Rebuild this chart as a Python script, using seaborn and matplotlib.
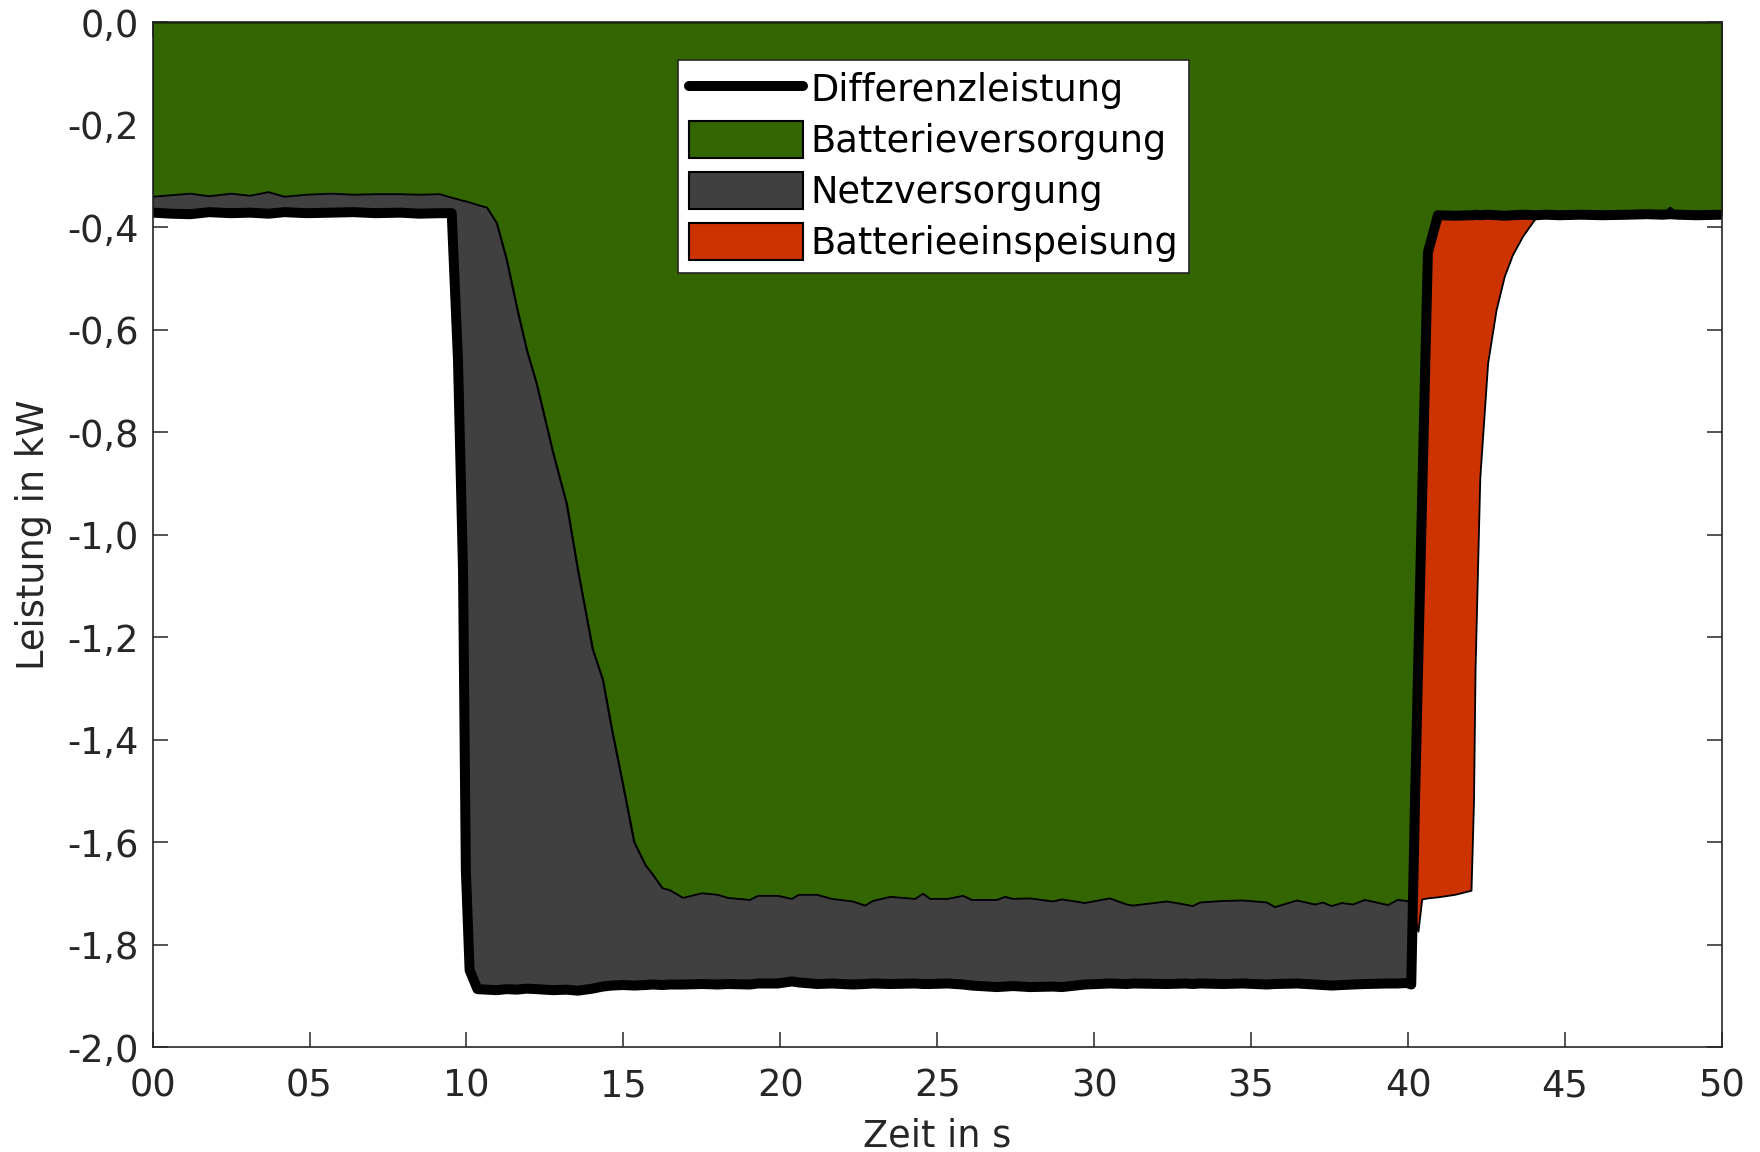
import numpy as np
import matplotlib
matplotlib.use("Agg")
import matplotlib.pyplot as plt
import matplotlib.patches as mpatches
from matplotlib.lines import Line2D
from matplotlib.ticker import FuncFormatter
import seaborn as sns

# ---------------- data ----------------
t = [0, 0.6, 1.2, 1.8, 2.5, 3.1, 3.7, 4.2, 4.9, 5.7, 6.4, 7.1, 7.9, 8.5, 9.15,
     9.53, 9.73, 9.89, 9.98, 10.1, 10.35,
     10.65, 10.96, 11.28, 11.6, 11.92, 12.23, 12.76, 13.19, 13.55, 14.02, 14.34, 14.63,
     14.99, 15.34, 15.7, 15.94, 16.24, 16.48,
     16.9, 17.5, 18.0, 18.33, 19.03, 19.29, 19.92, 20.37, 20.59, 21.17, 21.64, 22.31,
     22.7, 22.95, 23.5, 24.29, 24.55, 24.77, 25.34, 25.82, 26.1, 26.9, 27.16, 27.41,
     27.95, 28.69, 28.97, 29.7, 30.5, 31.04, 31.23, 32.32, 32.89, 33.14, 33.37, 34.1,
     34.74, 35.5, 35.76, 36.46, 37.03, 37.28, 37.57, 37.89, 38.24, 38.62, 39.36, 39.67,
     39.96,
     40.1, 40.22, 40.33, 40.45, 40.63, 40.95, 41.5, 42.02, 42.1, 42.15, 42.3, 42.55,
     42.82, 43.08, 43.34, 43.66, 44.04, 44.4,
     44.8, 45.5, 46.2, 47.0, 47.6, 48.1, 48.35, 48.6, 49.2, 50.0]

# Batterieversorgung boundary (kW)
batterie = [-0.341, -0.338, -0.335, -0.340, -0.335, -0.339, -0.332, -0.341, -0.337,
            -0.335, -0.337, -0.336, -0.336, -0.337, -0.336,
            -0.343, -0.346, -0.349, -0.350, -0.352, -0.357,
            -0.362, -0.392, -0.464, -0.556, -0.640, -0.705, -0.841, -0.940, -1.070,
            -1.224, -1.283, -1.380, -1.490, -1.600, -1.645, -1.664, -1.690, -1.694,
            -1.709, -1.700, -1.703, -1.709, -1.713, -1.705, -1.705, -1.711, -1.703,
            -1.703, -1.711, -1.716, -1.724, -1.715, -1.707, -1.711, -1.701, -1.711,
            -1.711, -1.705, -1.713, -1.713, -1.707, -1.711, -1.710, -1.716, -1.712,
            -1.719, -1.710, -1.722, -1.724, -1.716, -1.722, -1.725, -1.718, -1.715,
            -1.714, -1.718, -1.727, -1.714, -1.722, -1.718, -1.725, -1.719, -1.722,
            -1.713, -1.723, -1.713, -1.715,
            -1.720, -1.750, -1.775, -1.712, -1.710, -1.708, -1.703, -1.695, -1.520,
            -1.260, -0.890, -0.666, -0.562, -0.497, -0.455, -0.419, -0.386, -0.376,
            -0.377, -0.376, -0.377, -0.376, -0.375, -0.376, -0.362, -0.376, -0.377,
            -0.376]

# Differenzleistung (kW)
differenz = [-0.372, -0.374, -0.375, -0.371, -0.373, -0.372, -0.374, -0.371, -0.373,
             -0.372, -0.371, -0.373, -0.372, -0.374, -0.373,
             -0.373, -0.660, -1.070, -1.655, -1.850, -1.887,
             -1.888, -1.889, -1.887, -1.888, -1.886, -1.887, -1.889, -1.888, -1.890,
             -1.886, -1.882, -1.880, -1.879, -1.880, -1.879, -1.878, -1.879, -1.878,
             -1.878, -1.877, -1.878, -1.877, -1.878, -1.876, -1.876, -1.872, -1.874,
             -1.877, -1.876, -1.878, -1.877, -1.876, -1.877, -1.876, -1.877, -1.877,
             -1.876, -1.878, -1.880, -1.883, -1.882, -1.881, -1.883, -1.882, -1.883,
             -1.878, -1.876, -1.877, -1.876, -1.877, -1.876, -1.877, -1.876, -1.877,
             -1.876, -1.878, -1.877, -1.876, -1.878, -1.879, -1.880, -1.879, -1.878,
             -1.877, -1.876, -1.876, -1.875,
             -1.878, -1.520, -1.230, -0.920, -0.450, -0.377, -0.378, -0.377, -0.377,
             -0.376, -0.377, -0.376, -0.377, -0.378, -0.377, -0.376, -0.377, -0.376,
             -0.377, -0.376, -0.377, -0.376, -0.375, -0.376, -0.375, -0.376, -0.377,
             -0.376]

legend_labels = ["Differenzleistung", "Batterieversorgung", "Netzversorgung",
                 "Batterieeinspeisung"]
x_ticks = [0, 5, 10, 15, 20, 25, 30, 35, 40, 45, 50]
y_ticks = [0.0, -0.2, -0.4, -0.6, -0.8, -1.0, -1.2, -1.4, -1.6, -1.8, -2.0]

# ---------------- styling ----------------
GREEN = "#336600"
GRAY = "#404040"
RED = "#cc3300"
TXT = "#262626"
FS = 26.5

sns.set_theme(style="white")
plt.rcParams["font.family"] = ["DejaVu Sans"]

fig = plt.figure(figsize=(17.6, 11.52), dpi=100)
ax = fig.add_axes([0.0867, 0.0911, 0.8917, 0.8898])

tt = np.asarray(t)
B = np.asarray(batterie)
D = np.asarray(differenz)

ax.fill_between(tt, 0, np.maximum(B, D), facecolor=GREEN, edgecolor="black",
                linewidth=1.3, zorder=1)
ax.fill_between(tt, D, B, where=B >= D, interpolate=True, facecolor=GRAY,
                edgecolor="black", linewidth=1.3, zorder=1.5)
ax.fill_between(tt, D, B, where=B <= D, interpolate=True, facecolor=RED,
                edgecolor="black", linewidth=1.3, zorder=1.5)

sns.lineplot(x=tt, y=D, ax=ax, color="black", linewidth=7.2, estimator=None,
             sort=False, zorder=3, solid_joinstyle="round")

ax.set_xlim(0, 50)
ax.set_ylim(-2.0, 0.0)
ax.set_xticks(x_ticks)
ax.set_yticks(y_ticks)
ax.xaxis.set_major_formatter(FuncFormatter(lambda v, p: f"{int(round(v)):02d}"))
ax.yaxis.set_major_formatter(
    FuncFormatter(lambda v, p: ("0,0" if abs(v) < 1e-9 else f"{v:.1f}".replace(".", ","))))

ax.tick_params(axis="both", which="major", direction="in", length=10.8, width=1.1,
               color=TXT, labelsize=FS, labelcolor=TXT, top=True, right=True,
               bottom=True, left=True)
ax.tick_params(axis="x", pad=15)
ax.tick_params(axis="y", pad=10)
for s in ax.spines.values():
    s.set_visible(True)
    s.set_color(TXT)
    s.set_linewidth(1.2)
    s.set_zorder(4)

ax.set_xlabel("Zeit in s", fontsize=FS, color=TXT, labelpad=9)
ax.set_ylabel("Leistung in kW", fontsize=FS, color=TXT, labelpad=11)

handles = [
    Line2D([0], [0], color="black", linewidth=7.2),
    mpatches.Patch(facecolor=GREEN, edgecolor="black", linewidth=1.5),
    mpatches.Patch(facecolor=GRAY, edgecolor="black", linewidth=1.5),
    mpatches.Patch(facecolor=RED, edgecolor="black", linewidth=1.5),
]
leg = ax.legend(handles, legend_labels, loc="upper left", bbox_to_anchor=(0.3348, 0.9634),
                borderaxespad=0, fontsize=FS, frameon=True, fancybox=False,
                framealpha=1, edgecolor=TXT, handlelength=3.1, handleheight=1.15,
                handletextpad=0.2, labelspacing=0.33, borderpad=0.3)
leg.get_frame().set_linewidth(1.2)
for txt in leg.get_texts():
    txt.set_color("black")
leg.set_zorder(5)

fig.savefig("out.png", dpi=100, facecolor="white")
